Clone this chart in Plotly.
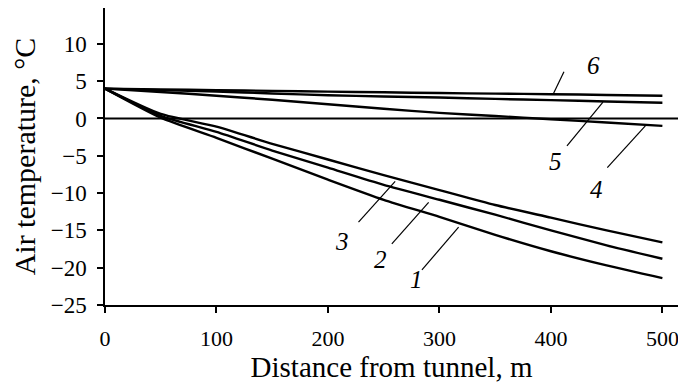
import plotly.graph_objects as go

# Data
distance = [0, 50, 100, 150, 200, 250, 300, 350, 400, 450, 500]
curve1 = [4.0, 0.1, -2.6, -5.4, -8.2, -10.9, -13.2, -15.6, -17.8, -19.7, -21.4]
curve2 = [4.0, 0.35, -1.8, -4.3, -6.6, -8.9, -10.9, -12.9, -15.0, -17.0, -18.8]
curve3 = [4.0, 0.6, -1.1, -3.4, -5.5, -7.6, -9.6, -11.6, -13.3, -15.0, -16.6]
curve4 = [4.0, 3.55, 3.05, 2.5, 1.9, 1.3, 0.75, 0.32, -0.1, -0.55, -1.0]
curve5 = [4.0, 3.8, 3.6, 3.35, 3.1, 2.95, 2.8, 2.62, 2.45, 2.28, 2.1]
curve6 = [4.0, 3.9, 3.8, 3.7, 3.6, 3.5, 3.4, 3.32, 3.25, 3.15, 3.05]
series = [curve1, curve2, curve3, curve4, curve5, curve6]
curve_names = ["1", "2", "3", "4", "5", "6"]

# Label positions (data coords): label point, leader start, leader end
label_pos = [(279.8, -21.6), (246.9, -18.9), (212.5, -16.5), (441.3, -9.56), (403.9, -5.78), (438.3, 7.15)]
leader_start = [(284.3, -20.3), (257.3, -16.8), (227.4, -13.9), (450.6, -6.6), (414.4, -3.68), (411.7, 6.26)]
leader_end = [(317.2, -14.55), (290.3, -11.25), (260.3, -8.44), (484.7, -1.0), (446.7, 2.2), (402.2, 3.3)]

x_ticks = [0, 100, 200, 300, 400, 500]
y_ticks = [-25, -20, -15, -10, -5, 0, 5, 10]
y_tick_text = [("\u2212" + str(-v)) if v < 0 else str(v) for v in y_ticks]

FONT = "Liberation Serif"

fig = go.Figure()

# zero line
fig.add_trace(go.Scatter(x=[0, 514], y=[0, 0], mode="lines",
                         line=dict(color="black", width=2), hoverinfo="skip", showlegend=False))

for name, ys in zip(curve_names, series):
    fig.add_trace(go.Scatter(x=distance, y=ys, mode="lines", name=name,
                             line=dict(color="black", width=2.4, shape="spline", smoothing=0.6),
                             showlegend=False))

for name, lp, ls, le in zip(curve_names, label_pos, leader_start, leader_end):
    fig.add_trace(go.Scatter(x=[ls[0], le[0]], y=[ls[1], le[1]], mode="lines",
                             line=dict(color="black", width=1.2), hoverinfo="skip", showlegend=False))
    fig.add_annotation(x=lp[0], y=lp[1], text="<i>" + name + "</i>", showarrow=False,
                       font=dict(family=FONT, size=25, color="black"),
                       xanchor="center", yanchor="middle")

fig.update_layout(
    width=678, height=385,
    margin=dict(l=105, r=0, t=8, b=80),
    paper_bgcolor="white", plot_bgcolor="white",
    font=dict(family=FONT, color="black"),
    xaxis=dict(range=[0, 514], tickvals=x_ticks, ticks="outside", ticklen=6,
               tickwidth=1.5, tickcolor="black", ticklabelstandoff=7,
               ticklabeloverflow="allow",
               showline=True, linecolor="black", linewidth=1.5, showgrid=False,
               zeroline=False, tickfont=dict(family=FONT, size=22, color="black"),
               title=dict(text="Distance from tunnel, m", font=dict(family=FONT, size=29), standoff=4)),
    yaxis=dict(range=[-25, 14.8], tickvals=y_ticks, ticktext=y_tick_text, ticks="outside",
               ticklen=6, tickwidth=1.5, tickcolor="black", ticklabelstandoff=6,
               showline=True, linecolor="black", linewidth=1.5, showgrid=False,
               zeroline=False, tickfont=dict(family=FONT, size=23, color="black"),
               title=dict(text="Air temperature, \u00b0C", font=dict(family=FONT, size=30), standoff=6)),
)

fig.write_html("out.html")
